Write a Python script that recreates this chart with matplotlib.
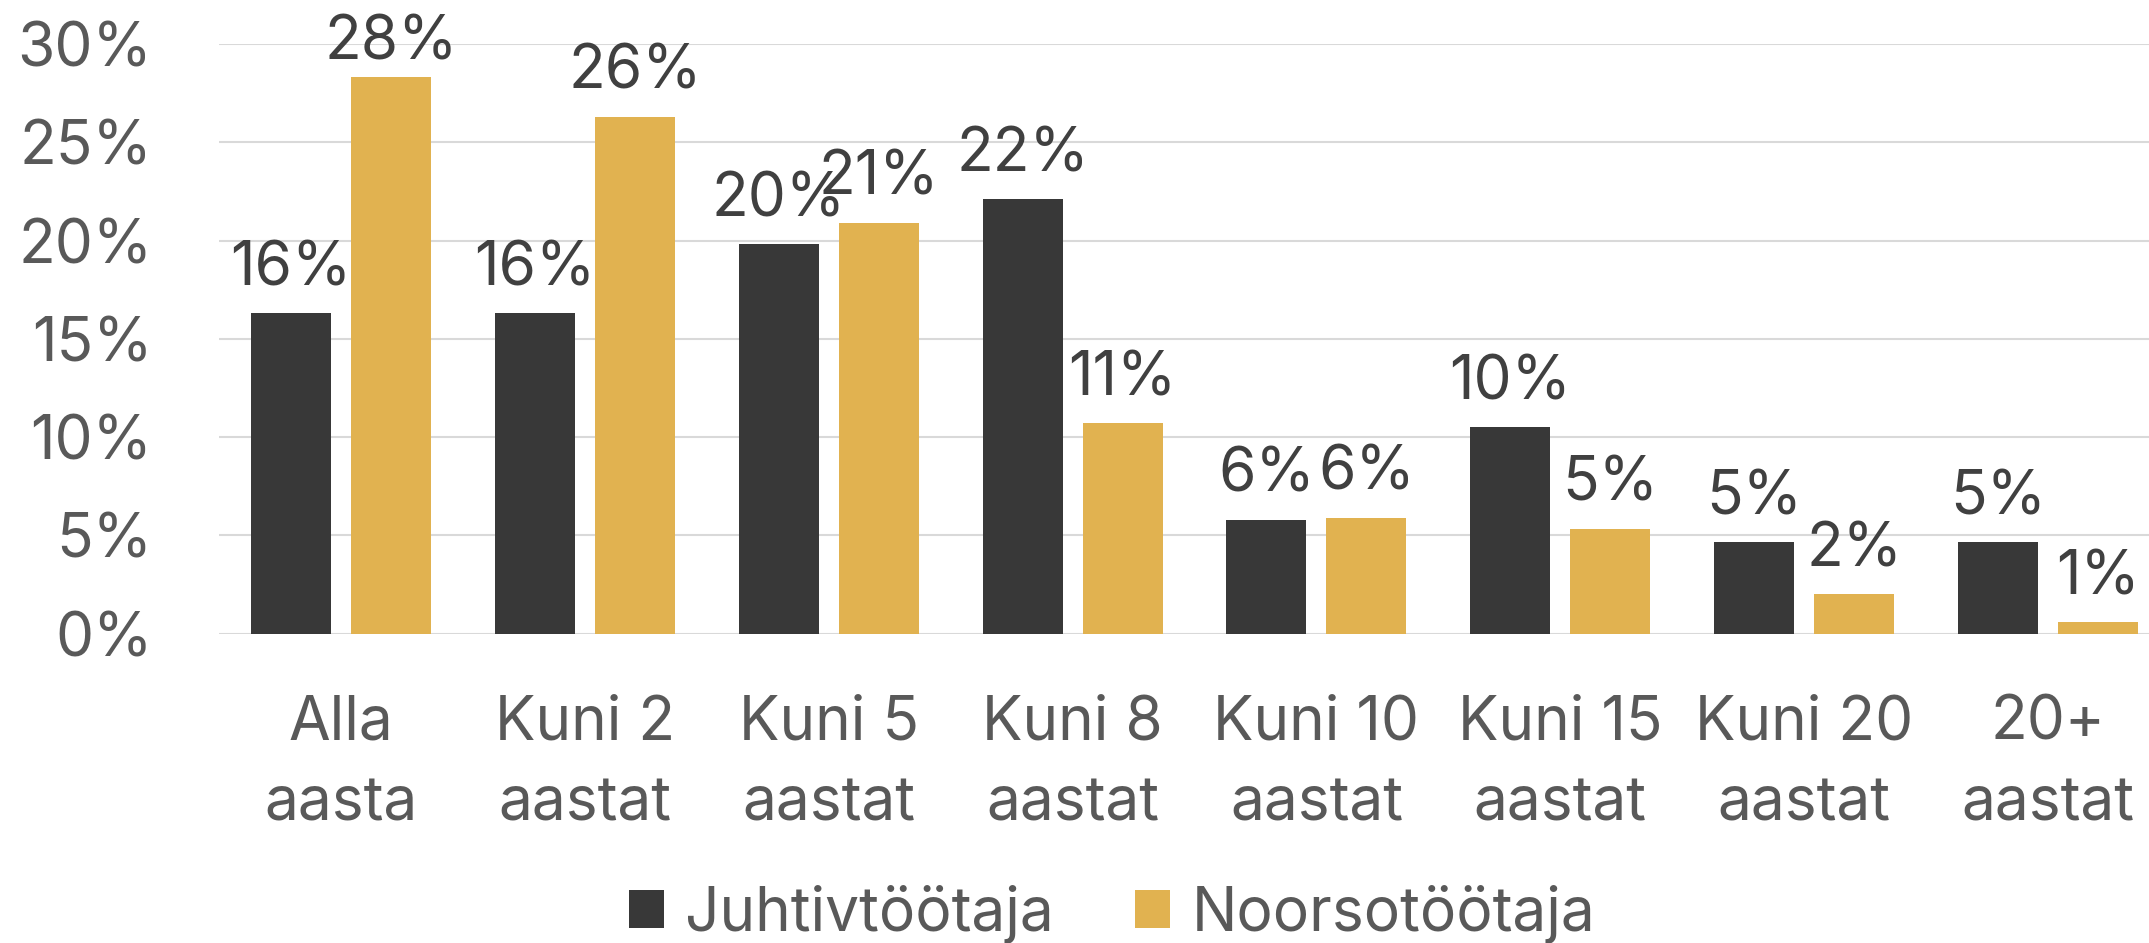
import matplotlib
matplotlib.use("Agg")
import matplotlib.pyplot as plt
import numpy as np
from matplotlib.patches import Patch

categories = ["Alla\naasta", "Kuni 2\naastat", "Kuni 5\naastat", "Kuni 8\naastat",
              "Kuni 10\naastat", "Kuni 15\naastat", "Kuni 20\naastat", "20+\naastat"]
series_names = ["Juhtivtöötaja", "Noorsotöötaja"]
juhtiv = [0.163, 0.163, 0.198, 0.221, 0.058, 0.105, 0.0465, 0.0465]
noorso = [0.283, 0.263, 0.209, 0.107, 0.059, 0.0535, 0.020, 0.0057]
yticks = [0.0, 0.05, 0.10, 0.15, 0.20, 0.25, 0.30]

DARK = "#383838"
GOLD = "#E1B250"
TICK_COLOR = "#595959"
LABEL_COLOR = "#404040"
FS = 43.5

plt.rcParams['font.family'] = ['Inter', 'DejaVu Sans']

W, H = 2149, 943
fig = plt.figure(figsize=(W / 100, H / 100), dpi=100)
left_px, right_px = 219, 2170
bottom_px, top_px = 633.7, 44.0
ax = fig.add_axes([left_px / W, (H - bottom_px) / H,
                   (right_px - left_px) / W, (bottom_px - top_px) / H])

x = np.arange(len(categories))
bw = 0.328
off = 0.205
b1 = ax.bar(x - off, juhtiv, width=bw, color=DARK, zorder=3, label=series_names[0])
b2 = ax.bar(x + off, noorso, width=bw, color=GOLD, zorder=3, label=series_names[1])

ax.set_xlim(-0.5, len(categories) - 0.5)
ax.set_ylim(0, 0.30)
ax.set_yticks(yticks)
ax.set_yticklabels([f"{int(round(t * 100))}%" for t in yticks])
ax.set_xticks(x)
ax.set_xticklabels(categories, linespacing=1.5)
ax.tick_params(axis='y', length=0, pad=48, labelsize=FS, labelcolor=TICK_COLOR)
ax.tick_params(axis='x', length=0, pad=44, labelsize=FS, labelcolor=TICK_COLOR)
ax.grid(axis='y', color="#D9D9D9", linewidth=1.5, zorder=0)
ax.set_axisbelow(True)
for s in ax.spines.values():
    s.set_visible(False)

# data labels
max_baseline_px = H - 59.3  # keep labels inside chart area
for bars, vals in ((b1, juhtiv), (b2, noorso)):
    for rect, v in zip(bars, vals):
        cx = rect.get_x() + rect.get_width() / 2
        xd, top_disp = ax.transData.transform((cx, v))
        base = min(top_disp + 28, max_baseline_px)
        fig.text(xd / W, base / H, f"{v * 100:.0f}%", ha='center', va='baseline',
                 fontsize=FS, color=LABEL_COLOR)

handles = [Patch(facecolor=DARK, edgecolor='none'), Patch(facecolor=GOLD, edgecolor='none')]
fig.legend(handles, series_names, loc='lower center', bbox_to_anchor=(1112 / W, -0.007),
           ncol=2, frameon=False, fontsize=FS, labelcolor=TICK_COLOR,
           handlelength=0.58, handleheight=0.6, handletextpad=0.35,
           columnspacing=1.35, borderpad=0.1, borderaxespad=0.0)

fig.savefig("out.png", dpi=100)
